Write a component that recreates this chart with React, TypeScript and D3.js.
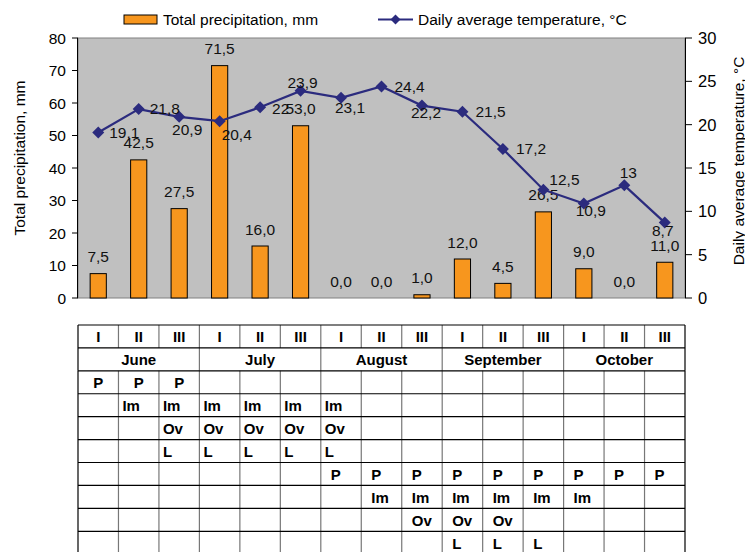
import React from 'react';
import * as d3 from 'd3';

const periods = ['I', 'II', 'III', 'I', 'II', 'III', 'I', 'II', 'III', 'I', 'II', 'III', 'I', 'II', 'III'];
const months = ['June', 'July', 'August', 'September', 'October'];
const precipitation = [7.5, 42.5, 27.5, 71.5, 16.0, 53.0, 0.0, 0.0, 1.0, 12.0, 4.5, 26.5, 9.0, 0.0, 11.0];
const temperature = [19.1, 21.8, 20.9, 20.4, 22, 23.9, 23.1, 24.4, 22.2, 21.5, 17.2, 12.5, 10.9, 13, 8.7];
const precipTicks = [0, 10, 20, 30, 40, 50, 60, 70, 80];
const tempTicks = [0, 5, 10, 15, 20, 25, 30];
const seriesNames = ['Total precipitation, mm', 'Daily average temperature, °C'];

const stageRows = [
  ['P', 'P', 'P', '', '', '', '', '', '', '', '', '', '', '', ''],
  ['', 'Im', 'Im', 'Im', 'Im', 'Im', 'Im', '', '', '', '', '', '', '', ''],
  ['', '', 'Ov', 'Ov', 'Ov', 'Ov', 'Ov', '', '', '', '', '', '', '', ''],
  ['', '', 'L', 'L', 'L', 'L', 'L', '', '', '', '', '', '', '', ''],
  ['', '', '', '', '', '', 'P', 'P', 'P', 'P', 'P', 'P', 'P', 'P', 'P'],
  ['', '', '', '', '', '', '', 'Im', 'Im', 'Im', 'Im', 'Im', 'Im', '', ''],
  ['', '', '', '', '', '', '', '', 'Ov', 'Ov', 'Ov', '', '', '', ''],
  ['', '', '', '', '', '', '', '', '', 'L', 'L', 'L', '', '', ''],
];

// label placement styling for temperature labels: [dx, dy, anchor]
const tempLabelPlacement: [number, number, string][] = [
  [11, 0, 'start'], [11, -1, 'start'], [8, 13, 'middle'], [2, 13, 'start'], [12, 1, 'start'],
  [2, -8, 'middle'], [9, 10, 'middle'], [13, 0, 'start'], [4, 7, 'middle'], [13, 0, 'start'],
  [13, 0, 'start'], [6, -10, 'start'], [7, 7, 'middle'], [4, -13, 'middle'], [-2, 8, 'middle'],
];
// table rows alignment padding: 0 = centered
const stageRowPad = [0, 4, 4, 4, 10, 10, 10, 10];

const W = 745, H = 552;
const L = 78, R = 685, T = 38, B = 298;
const FONT = '"Liberation Sans", Arial, sans-serif';
const ORANGE = '#F7961E';
const NAVY = '#2B2B7E';
const FS = 15.5;

export default function App() {
  const idx = d3.range(periods.length);
  const x = d3.scaleBand<number>().domain(idx).range([L, R]).padding(0);
  const yP = d3.scaleLinear().domain([0, 80]).range([B, T]);
  const yT = d3.scaleLinear().domain([0, 30]).range([B, T]);
  const bw = x.bandwidth() * 0.4;
  const cx = (i: number) => (x(i) as number) + x.bandwidth() / 2;
  const line = d3.line<number>().x((_, i) => cx(i)).y((d) => yT(d));
  const fmtP = (v: number) => v.toFixed(1).replace('.', ',');
  const fmtT = (v: number) => String(v).replace('.', ',');
  const diamond = (px: number, py: number, s: number) =>
    `M${px},${py - s}L${px + s},${py}L${px},${py + s}L${px - s},${py}Z`;

  // table geometry
  const tTop = 325;
  const rh = 22.92;
  const nRows = 2 + stageRows.length;
  const tBottom = tTop + rh * nRows;
  const tFont = 15;

  return (
    <svg width={W} height={H} style={{ position: 'absolute', left: 0, top: 0, background: '#fff' }} fontFamily={FONT}>
      {/* legend */}
      <rect x={124} y={15} width={33} height={9} fill={ORANGE} stroke="#000" strokeWidth={1} />
      <text x={163} y={19.5} fontSize={FS} dominantBaseline="central" fill="#000">{seriesNames[0]}</text>
      <line x1={378} x2={413} y1={19.5} y2={19.5} stroke={NAVY} strokeWidth={2} />
      <path d={diamond(395.5, 19.5, 5)} fill={NAVY} />
      <text x={418} y={19.5} fontSize={FS} dominantBaseline="central" fill="#000">{seriesNames[1]}</text>

      {/* plot area */}
      <rect x={L} y={T} width={R - L} height={B - T} fill="#C0C0C0" stroke="#808080" strokeWidth={1} />

      {/* bars */}
      {precipitation.map((v, i) => (
        <rect key={'b' + i} x={cx(i) - bw / 2} y={yP(v)} width={bw} height={B - yP(v)}
          fill={ORANGE} stroke="#000" strokeWidth={1} />
      ))}
      {precipitation.map((v, i) => (
        <text key={'bl' + i} x={cx(i)} y={yP(v) - 17} fontSize={FS} textAnchor="middle"
          dominantBaseline="central" fill="#111">{fmtP(v)}</text>
      ))}

      {/* temperature line */}
      <path d={line(temperature) || ''} fill="none" stroke={NAVY} strokeWidth={2.2} />
      {temperature.map((v, i) => (
        <path key={'m' + i} d={diamond(cx(i), yT(v), 6)} fill={NAVY} />
      ))}
      {temperature.map((v, i) => {
        const [dx, dy, anchor] = tempLabelPlacement[i];
        return (
          <text key={'tl' + i} x={cx(i) + dx} y={yT(v) + dy} fontSize={FS} textAnchor={anchor as any}
            dominantBaseline="central" fill="#111">{fmtT(v)}</text>
        );
      })}

      {/* left axis */}
      <line x1={L - 0.5} x2={L - 0.5} y1={T} y2={B} stroke="#000" />
      {precipTicks.map((t) => (
        <g key={'pt' + t}>
          <line x1={L - 6} x2={L} y1={yP(t)} y2={yP(t)} stroke="#000" />
          <text x={L - 12} y={yP(t)} fontSize={FS} textAnchor="end" dominantBaseline="central" fill="#000">{t}</text>
        </g>
      ))}
      <text transform={`translate(19,158) rotate(-90)`} fontSize={FS} textAnchor="middle"
        dominantBaseline="central" fill="#000">{seriesNames[0]}</text>

      {/* right axis */}
      <line x1={R + 0.5} x2={R + 0.5} y1={T} y2={B} stroke="#000" />
      {tempTicks.map((t) => (
        <g key={'tt' + t}>
          <line x1={R} x2={R + 7} y1={yT(t)} y2={yT(t)} stroke="#000" />
          <text x={R + 13} y={yT(t)} fontSize={16.5} textAnchor="start" dominantBaseline="central" fill="#000">{t}</text>
        </g>
      ))}
      <text transform={`translate(738,161) rotate(-90)`} fontSize={FS} textAnchor="middle"
        dominantBaseline="central" fill="#000">{seriesNames[1]}</text>

      {/* table */}
      <g fontWeight="bold" fontSize={tFont} fill="#000">
        {d3.range(periods.length + 1).map((c) => {
          const xx = c === periods.length ? R : (x(c) as number);
          const outer = c === 0 || c === periods.length;
          const monthEdge = c % 3 === 0;
          return (
            <g key={'v' + c}>
              <line x1={xx} x2={xx} y1={tTop} y2={tTop + rh} stroke={outer ? '#000' : '#777'} strokeWidth={1.2} />
              {(outer || monthEdge) && (
                <line x1={xx} x2={xx} y1={tTop + rh} y2={tTop + 2 * rh} stroke={outer ? '#000' : '#777'} strokeWidth={1.2} />
              )}
              <line x1={xx} x2={xx} y1={tTop + 2 * rh} y2={tBottom} stroke={outer ? '#000' : '#777'} strokeWidth={1.2} />
            </g>
          );
        })}
        {d3.range(nRows + 1).map((r) => (
          <line key={'h' + r} x1={L} x2={R} y1={tTop + r * rh} y2={tTop + r * rh} stroke="#000" strokeWidth={1.2} />
        ))}
        {periods.map((p, i) => (
          <text key={'p' + i} x={cx(i)} y={tTop + rh / 2 + 0.5} textAnchor="middle" dominantBaseline="central">{p}</text>
        ))}
        {months.map((m, k) => {
          const x0 = x(k * 3) as number;
          const x1 = (x(k * 3 + 2) as number) + x.bandwidth();
          return (
            <text key={'mo' + k} x={(x0 + x1) / 2} y={tTop + rh * 1.5 + 0.5} textAnchor="middle" dominantBaseline="central">{m}</text>
          );
        })}
        {stageRows.map((row, r) =>
          row.map((s, c) => {
            if (!s) return null;
            const pad = stageRowPad[r];
            const yy = tTop + rh * (2 + r) + rh / 2 + 0.5;
            return pad === 0 ? (
              <text key={`s${r}-${c}`} x={cx(c)} y={yy} textAnchor="middle" dominantBaseline="central">{s}</text>
            ) : (
              <text key={`s${r}-${c}`} x={(x(c) as number) + pad} y={yy} textAnchor="start" dominantBaseline="central">{s}</text>
            );
          })
        )}
      </g>
    </svg>
  );
}
